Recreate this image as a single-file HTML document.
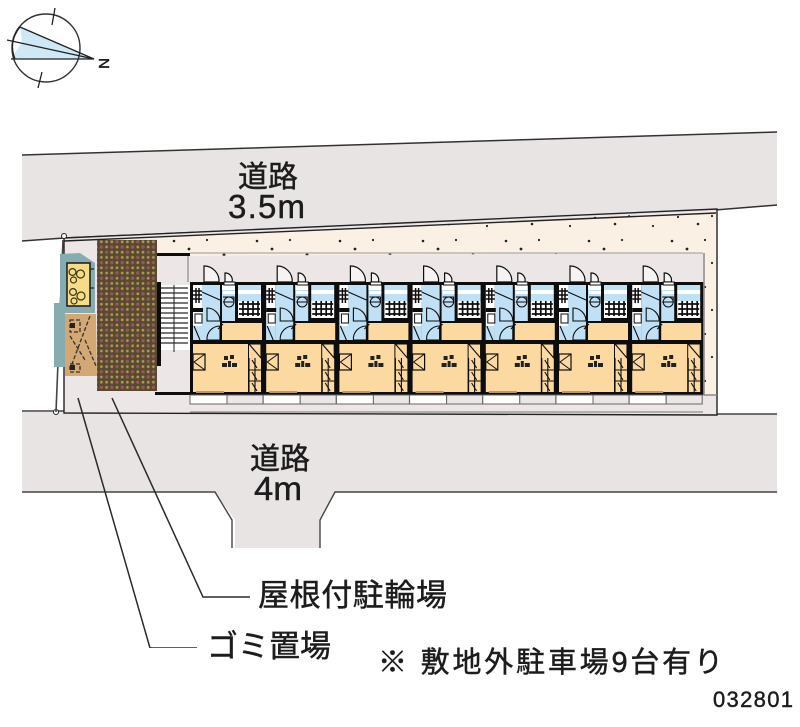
<!DOCTYPE html>
<html><head><meta charset="utf-8"><style>
html,body{margin:0;padding:0;background:#fff}
svg{display:block}
text{font-family:"Liberation Sans","Noto Sans CJK JP",sans-serif;fill:#1c1c1c;stroke:#1c1c1c;stroke-width:.45}
</style></head><body>
<svg width="800" height="727" viewBox="0 0 800 727" xmlns="http://www.w3.org/2000/svg">
<defs>
<filter id="soft" x="0" y="0" width="100%" height="100%"><feGaussianBlur stdDeviation="0.35"/></filter>
<pattern id="brick" width="5.2" height="5.2" patternUnits="userSpaceOnUse">
<rect width="5.2" height="5.2" fill="#5a4a30"/><circle cx="2.6" cy="2.6" r="1.4" fill="#ac9850"/>
</pattern>
<pattern id="mag" width="20.8" height="15.6" patternUnits="userSpaceOnUse">
<circle cx="2.6" cy="2.6" r="1.4" fill="#a04c6c"/><circle cx="13" cy="7.8" r="1.4" fill="#a04c6c"/><circle cx="7.8" cy="13" r="1.4" fill="#a04c6c"/><circle cx="18.2" cy="13" r="1.4" fill="#a04c6c"/>
</pattern>
<pattern id="dots" width="83" height="47" patternUnits="userSpaceOnUse">
<rect width="83" height="47" fill="#fbf0e4"/>
<g fill="#222"><circle cx="8" cy="6" r="1.3"/><circle cx="23" cy="14" r="1.4"/><circle cx="41" cy="5" r="1.1"/><circle cx="58" cy="20" r="1.5"/><circle cx="14" cy="29" r="1.1"/><circle cx="34" cy="36" r="1.3"/><circle cx="72" cy="38" r="1.1"/><circle cx="48" cy="28" r="1.1"/></g>
</pattern>
<g id="unit">
<rect x="0" y="0" width="74" height="113" fill="#111"/>
<rect x="3" y="3" width="9" height="55" fill="#fff"/>
<rect x="12" y="3" width="18" height="55" fill="#bfe0f5"/>
<rect x="3" y="44" width="9" height="14" fill="#bfe0f5"/>
<rect x="32" y="3" width="13" height="5" fill="#fff"/>
<rect x="32" y="8" width="13" height="31" fill="#bfe0f5"/>
<rect x="33" y="9" width="12" height="3" fill="#fff"/>
<rect x="48" y="3" width="23" height="5" fill="#bfe0f5"/>
<rect x="48" y="8" width="23" height="4" fill="#fff"/>
<rect x="48" y="12" width="23" height="7" fill="#bfe0f5"/>
<rect x="48" y="19" width="23" height="17" fill="#fff"/>
<rect x="32" y="41" width="40" height="17" fill="#fdd9a2"/>
<rect x="3" y="62" width="55" height="48" fill="#fdd9a2"/>
<rect x="59" y="62" width="12" height="48" fill="#fdd9a2"/>
<path d="M49 22h21M49 27h21M49 32h21M53 19v15M58 19v15M63 19v15M68 19v15" stroke="#111" stroke-width="1.7" fill="none"/>
<path d="M3 9h9M3 13h9M3 17h9M6 6v15M9 6v15" stroke="#111" stroke-width="1.5" fill="none"/>
<rect x="3" y="26" width="10" height="4" fill="#111"/>
<rect x="5" y="32" width="7" height="9" fill="#fff" stroke="#111"/>
<path d="M12 10l18 8M4 44l6 14M33 42l-5 5" stroke="#111" stroke-width="1.1" fill="none"/>
<path d="M17 26a13 13 0 0 1 13 13H17zM30 44a13 13 0 0 0-13 14h13z" fill="none" stroke="#111" stroke-width="1.1"/>
<circle cx="39" cy="20" r="5" fill="none" stroke="#111"/>
<path d="M33 15h11v5H33" fill="none" stroke="#111"/>
<rect x="3" y="72" width="12" height="16" fill="#fdd9a2" stroke="#111" stroke-width="1.2"/>
<path d="M15 72l-11 8 11 8" fill="none" stroke="#111"/>
<path d="M59 62h12v14L59 62zM59 76v34M65 76v34M59 88h12M59 99h12" fill="none" stroke="#111" stroke-width="1.1"/>
<path d="M62 78l5 8M62 90l5 8M62 101l5 8" stroke="#111" stroke-width="1.1"/>
<g fill="#222"><rect x="34" y="74" width="4" height="4"/><rect x="40" y="73" width="4" height="4"/><rect x="32" y="81" width="5" height="4"/><rect x="38" y="79" width="3" height="6"/><rect x="42" y="81" width="5" height="4"/></g>
<path d="M14 0V-16a15 15 0 0 1 15 16z" fill="#f6f3f3" stroke="#111" stroke-width="1.2"/>
<path d="M35 0V-9a7 7 0 0 1 7 9z" fill="#f6f3f3" stroke="#111" stroke-width="1.2"/>
<rect x="34" y="0" width="11" height="3" fill="#fff" stroke="#111"/>
<rect x="0" y="113" width="37" height="9" fill="#fff" stroke="#666"/>
<rect x="37" y="113" width="36" height="9" fill="#ece6e6" stroke="#666"/>
<rect x="6" y="109" width="28" height="2" fill="#b89a68"/>
</g>
</defs>

<g filter="url(#soft)">
<!-- Roads -->
<polygon points="22,155 777,132 777,206 715,210 64,238 22,241" fill="#e9e4e4"/>
<path d="M22 155L777 132M22 241L64 238L715 210L777 205" stroke="#333" stroke-width="1.5" fill="none"/>
<polygon points="22,412 777,414 777,492 335,492 320,520 320,548 235,548 235,520 215,492 22,492" fill="#e9e4e4"/>
<path d="M22 411H64M717 414H777M22 492H215L232 520V548M777 492H335L320 520V548" stroke="#444" stroke-width="1.4" fill="none"/>

<!-- Site -->
<polygon points="64,238 717,209 717,415 64,413" fill="#ece6e6"/>
<polygon points="157,238 717,211 717,395 703,395 703,253 157,256" fill="url(#dots)"/>
<path d="M64 238L717 209V415L64 413ZM64 241L716 213" stroke="#222" stroke-width="1.4" fill="none"/>
<path d="M704 253V395H717" stroke="#888" stroke-width="1.5" fill="none"/>
<path d="M190 253H703" stroke="#999" stroke-width="1"/>
<circle cx="64" cy="236" r="2.5" fill="#fff" stroke="#222"/><circle cx="56" cy="412" r="2.5" fill="#fff" stroke="#222"/>
<path d="M63 240L56 412" stroke="#444" stroke-width="1.6"/>

<!-- Left structures -->
<polygon points="60,254 80,253 95,263 95,313 65,313 65,303 60,303" fill="#86acb2"/>
<rect x="54" y="303" width="11" height="64" fill="#86acb2"/>
<rect x="67" y="263" width="23" height="43" fill="#f6dc86" stroke="#222" stroke-width="1.6"/>
<g fill="none" stroke="#3a3418" stroke-width="1.2"><circle cx="72.5" cy="272" r="3.4"/><circle cx="80.5" cy="274" r="4"/><circle cx="73.5" cy="280" r="3"/><circle cx="73" cy="292" r="3.4"/><circle cx="81" cy="296" r="4"/><circle cx="74" cy="301" r="3"/></g>
<path d="M90 269h4M90 288h4" stroke="#222" stroke-width="1.3"/>
<polygon points="65,314 96,314 97,376 65,376" fill="#d4a874"/>
<path d="M70 320H80V332H70ZM70 364H80V372H70ZM90 316L72 364M70 336L85 360M85 340L96 366" fill="none" stroke="#333" stroke-width="1.3" stroke-dasharray="4 2"/>
<rect x="70" y="323" width="5" height="5" fill="#222"/><rect x="70" y="365" width="5" height="5" fill="#222"/>
<rect x="97" y="240" width="60" height="151" fill="url(#brick)"/>
<rect x="97" y="240" width="60" height="151" fill="url(#mag)"/>

<!-- Stairs & walls -->
<rect x="161" y="285" width="29" height="65" fill="#fff"/>
<path d="M161 288H188M161 293H188M161 298H188M161 303H188M161 308H188M161 313H188M161 318H188M161 323H188M161 328H188M161 333H188M161 338H188M161 343H188" stroke="#666" stroke-width="1.7"/>
<path d="M174 285V352" stroke="#222"/>
<rect x="157" y="282" width="4" height="84" fill="#111"/>
<rect x="157" y="253" width="33" height="3" fill="#111"/>
<rect x="155" y="392" width="35" height="3" fill="#111"/>
<path d="M188 256V282M190 412H703" stroke="#777"/>

<!-- Units -->
<use href="#unit" x="190" y="282"/>
<use href="#unit" x="263.2" y="282"/>
<use href="#unit" x="336.4" y="282"/>
<use href="#unit" x="409.6" y="282"/>
<use href="#unit" x="482.8" y="282"/>
<use href="#unit" x="556" y="282"/>
<use href="#unit" x="629.2" y="282"/>

<!-- Leaders -->
<path d="M112 398L203 597H250M78 398L150 648H197" fill="none" stroke="#2a2a2a" stroke-width="1.5"/>

<!-- Compass -->
<polygon points="20,27 94,59 11,59 22,42" fill="#cfe8f5"/>
<circle cx="46" cy="48" r="34" fill="none" stroke="#333" stroke-width="1.4"/>
<path d="M20 27L94 59H11M7 40L94 59M55 8L52 25M42 72L38 88M20 27Q8 42 15 59" fill="none" stroke="#222" stroke-width="1.3"/>
</g>
<text font-size="15" transform="translate(99,58) rotate(90)">N</text>

<!-- Labels -->
<text x="238" y="187" font-size="30" textLength="60">道路</text>
<text x="228" y="218" font-size="33" textLength="77">3.5m</text>
<text x="250" y="469" font-size="30" textLength="60">道路</text>
<text x="254" y="500" font-size="33" textLength="48" lengthAdjust="spacingAndGlyphs">4m</text>
<text x="258" y="606" font-size="31" textLength="189">屋根付駐輪場</text>
<text x="207" y="657" font-size="31" textLength="124">ゴミ置場</text>
<text x="378" y="672" font-size="29" textLength="345">※ 敷地外駐車場9台有り</text>
<text x="713" y="707" font-size="22" textLength="80">032801</text>
</svg>
</body></html>
